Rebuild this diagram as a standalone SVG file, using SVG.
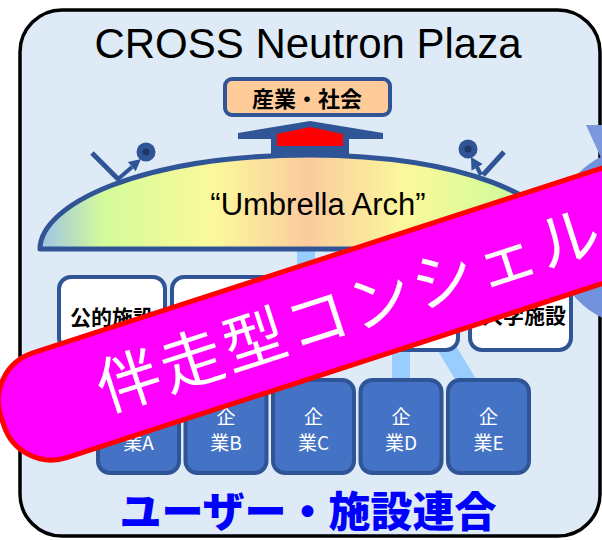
<svg xmlns="http://www.w3.org/2000/svg" width="602" height="540" viewBox="0 0 602 540">
  <defs>
    <linearGradient id="archFill" gradientUnits="userSpaceOnUse" x1="40" y1="0" x2="565" y2="0">
      <stop offset="0" stop-color="#9DC3E6"/>
      <stop offset="0.12" stop-color="#D4FB9A"/>
      <stop offset="0.33" stop-color="#FBF99B"/>
      <stop offset="0.51" stop-color="#FBCB9E"/>
      <stop offset="0.7" stop-color="#FBF99B"/>
      <stop offset="0.88" stop-color="#D4FB9A"/>
      <stop offset="1" stop-color="#9DC3E6"/>
    </linearGradient>
  </defs>
  <style>
    .frame { fill: #DEEBF7; stroke: #000000; stroke-width: 3.5; }
    .dark { fill: #2F5597; }
    .facility rect { fill: #FFFFFF; stroke: #2F5597; stroke-width: 4; }
    .facility text { font-family: "Noto Sans CJK JP", sans-serif; font-weight: 700; font-size: 21px; fill: #000000; }
    .company rect { fill: #4472C4; stroke: #2F5597; stroke-width: 4; }
    .company text { font-family: "Noto Sans CJK JP", sans-serif; font-size: 19px; fill: #FFFFFF; text-anchor: middle; }
    .link { stroke: #99CCFF; stroke-width: 18; fill: none; }
    .beam { stroke: #2F5597; stroke-width: 5; fill: none; }
    .shaft { stroke: #2F5597; stroke-width: 4; fill: none; }
  </style>

  <!-- outer panel -->
  <rect class="frame" x="20" y="10" width="580" height="526" rx="42" ry="42"/>

  <!-- cycle ring at the right edge -->
  <g id="cycle">
    <circle cx="642" cy="237" r="76" fill="none" stroke="#7292DD" stroke-width="28"/>
    <polygon points="586,125 630,125 602,160" fill="#7B98DE"/>
  </g>

  <!-- connectors -->
  <g id="connectors">
    <line class="link" x1="306" y1="248" x2="306" y2="382" stroke-width="22"/>
    <line class="link" x1="401" y1="340" x2="401" y2="385"/>
    <line class="link" x1="430" y1="320" x2="478" y2="400"/>
  </g>

  <!-- upward arrow toward industry/society -->
  <g id="up-arrow">
    <polygon class="dark" points="238,133 310,121 383,133 383,139 349,139 349,158 271,158 271,139 238,139"/>
    <polygon points="277,146 343,146 343,134 310,127 277,134" fill="#FF0000"/>
  </g>

  <!-- umbrella arch -->
  <g id="arch">
    <path d="M 40,249 C 40,205 140,155 310,155 C 460,156 560,195 565,249 Z" fill="url(#archFill)" stroke="#2F5597" stroke-width="5" stroke-linejoin="round"/>
    <text x="318" y="215" font-family="'Liberation Sans', Arial, sans-serif" font-size="31" fill="#000000" text-anchor="middle">“Umbrella Arch”</text>
  </g>

  <!-- beam / detector icons on the arch -->
  <g id="icon-left">
    <line class="beam" x1="92" y1="153" x2="119" y2="180"/>
    <line class="shaft" x1="117" y1="180" x2="132" y2="167"/>
    <polygon class="dark" points="141,159 135.7,171.3 127.9,162.1"/>
    <circle class="dark" cx="146" cy="152" r="9.5"/>
    <circle cx="146" cy="152" r="3.5" fill="#1F3864"/>
  </g>
  <g id="icon-right">
    <line class="beam" x1="504" y1="152" x2="483" y2="175"/>
    <line class="shaft" x1="481" y1="175" x2="477" y2="167"/>
    <polygon class="dark" points="471,157 482.7,164.1 471.5,170.7"/>
    <circle class="dark" cx="468" cy="149" r="9.5"/>
    <circle cx="468" cy="149" r="3.5" fill="#1F3864"/>
  </g>

  <!-- industry / society box -->
  <g id="society">
    <rect x="225" y="79" width="165" height="36" rx="7" fill="#FFCC99" stroke="#2F5597" stroke-width="4"/>
    <text x="307" y="107" font-family="'Noto Sans CJK JP', sans-serif" font-weight="700" font-size="22" fill="#000000" text-anchor="middle">産業・社会</text>
  </g>

  <!-- title -->
  <text id="title" x="308" y="58" font-family="'Liberation Sans', Arial, sans-serif" font-size="42" fill="#000000" text-anchor="middle">CROSS Neutron Plaza</text>

  <!-- facilities -->
  <g id="fac-public" class="facility">
    <rect x="59" y="277" width="106" height="73" rx="12"/>
    <text x="112" y="325" text-anchor="middle">公的施設</text>
  </g>
  <g id="fac-middle" class="facility">
    <rect x="172" y="277" width="286" height="73" rx="12"/>
  </g>
  <g id="fac-univ" class="facility">
    <rect x="470" y="277" width="101" height="73" rx="12"/>
    <text x="566" y="323" text-anchor="end">大学施設</text>
  </g>

  <!-- companies -->
  <g id="company-a" class="company">
    <rect x="98" y="380" width="81" height="93" rx="12"/>
    <text x="138.5" y="424">企</text>
    <text x="138.5" y="450">業A</text>
  </g>
  <g id="company-b" class="company">
    <rect x="185.5" y="380" width="81" height="93" rx="12"/>
    <text x="226" y="424">企</text>
    <text x="226" y="450">業B</text>
  </g>
  <g id="company-c" class="company">
    <rect x="273" y="380" width="81" height="93" rx="12"/>
    <text x="313.5" y="424">企</text>
    <text x="313.5" y="450">業C</text>
  </g>
  <g id="company-d" class="company">
    <rect x="360.5" y="380" width="81" height="93" rx="12"/>
    <text x="401" y="424">企</text>
    <text x="401" y="450">業D</text>
  </g>
  <g id="company-e" class="company">
    <rect x="448" y="380" width="81" height="93" rx="12"/>
    <text x="488.5" y="424">企</text>
    <text x="488.5" y="450">業E</text>
  </g>

  <!-- alliance caption -->
  <text id="alliance" x="308" y="527" font-family="'Noto Sans CJK JP', sans-serif" font-weight="900" font-size="42" fill="#0000FF" text-anchor="middle">ユーザー・施設連合</text>

  <!-- diagonal banner -->
  <g id="banner" transform="translate(300,324) rotate(-18)">
    <rect x="-313" y="-55" width="800" height="110" rx="50" ry="50" fill="#FF00FF" stroke="#FF0000" stroke-width="5"/>
    <text x="-212" y="24" font-family="'Noto Sans CJK JP', sans-serif" font-size="63" letter-spacing="3" fill="#FFFFFF">伴走型コンシェル</text>
  </g>
</svg>
